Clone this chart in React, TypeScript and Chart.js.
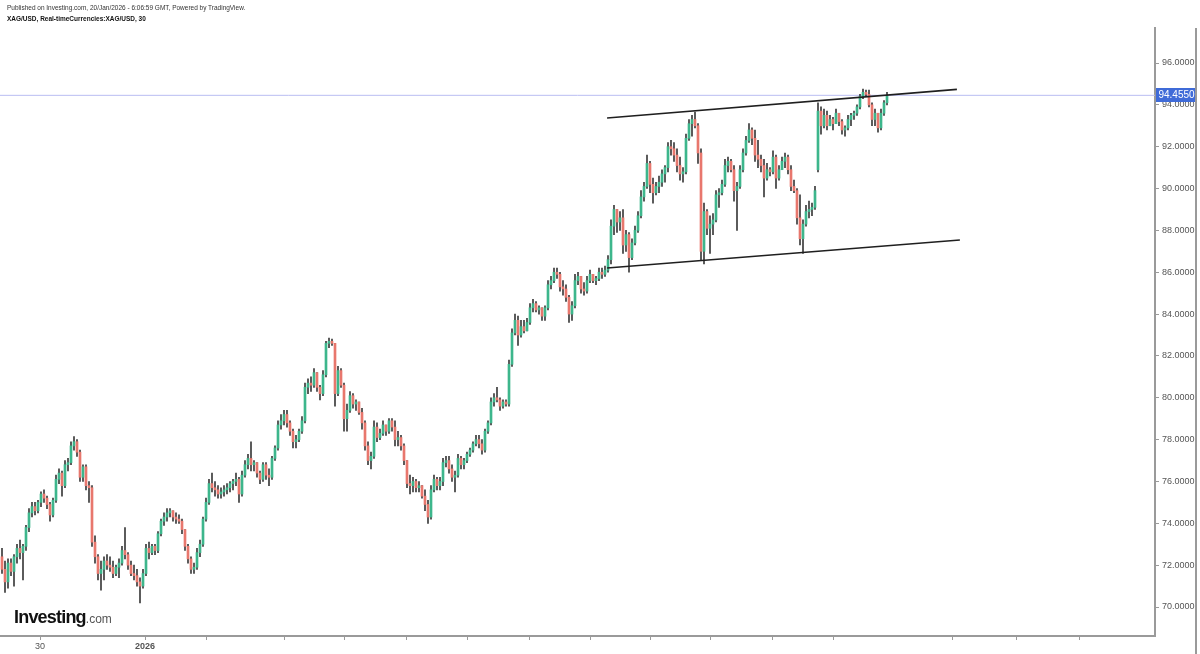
import React, { useEffect, useRef } from 'react';
import { Chart, registerables } from 'chart.js';

Chart.register(...registerables);

// ---- Data: XAG/USD 30-minute bars, each [open, high, low, close] ----
const barsLateDec = [
  [72.4,72.8,71.6,71.8],[71.8,72.2,70.7,71.2],[71.2,72.3,70.9,72.1],[72.1,72.3,71.5,71.7],[71.7,72.5,71.0,72.4],[72.4,73.0,72.1,72.8],[72.8,73.2,72.3,72.6],[72.6,73.0,71.3,72.9],[72.9,73.9,72.7,73.8],[73.8,74.7,73.6,74.5],
  [74.5,75.0,74.3,74.8],[74.8,75.0,74.4,74.6],[74.6,75.1,74.5,75.0],[75.0,75.5,74.8,75.4],[75.4,75.6,75.0,75.2],[75.2,75.3,74.7,74.9],[74.9,75.0,74.1,74.4],[74.4,75.2,74.3,75.1],[75.1,76.3,75.0,76.1],[76.1,76.6,75.9,76.4],
  [76.4,76.5,75.3,75.8],[75.8,77.0,75.7,76.8],[76.8,77.1,76.5,76.9],[76.9,77.9,76.8,77.7],[77.7,78.15,77.5,77.9],[77.9,78.0,77.2,77.4],[77.4,77.5,76.0,76.2],[76.2,76.8,76.0,76.7],[76.7,76.8,75.6,75.8],[75.8,76.0,75.0,75.7],
  [75.7,75.8,72.9,73.1],[73.1,73.4,72.1,72.4],[72.4,72.5,71.3,71.6],[71.6,72.2,70.8,71.8],[71.8,72.4,71.3,72.2],[72.2,72.5,71.8,72.0],[72.0,72.4,71.7,71.9],[71.9,72.2,71.4,71.6],[71.6,72.0,71.5,71.9],[71.9,72.3,71.4,72.1],
  [72.1,72.9,72.0,72.7],[72.7,73.8,72.3,72.5],[72.5,72.6,71.8,72.0],[72.0,72.2,71.5,71.6],[71.6,72.0,71.3,71.5],[71.5,71.8,71.0,71.2],[71.2,71.4,70.2,71.0],[71.0,71.8,70.9,71.6],[71.6,73.0,71.5,72.8],[72.8,73.1,72.3,72.6],
];
const barsEarlyJan = [
  [72.6,73.0,72.5,72.9],[72.9,73.0,72.5,72.7],[72.7,73.6,72.6,73.5],[73.5,74.2,73.4,74.1],[74.1,74.5,73.9,74.3],[74.3,74.7,74.1,74.5],[74.5,74.7,74.3,74.6],[74.6,74.6,74.1,74.3],[74.3,74.5,74.0,74.2],[74.2,74.4,74.0,74.1],
  [74.1,74.2,73.5,73.7],[73.7,73.7,72.7,72.9],[72.9,73.0,72.1,72.3],[72.3,72.4,71.6,71.8],[71.8,72.1,71.6,71.9],[71.9,72.8,71.8,72.6],[72.6,73.2,72.4,73.0],[73.0,74.3,72.9,74.2],[74.2,75.2,74.1,75.0],[75.0,76.1,74.9,75.9],
  [75.9,76.4,75.5,75.7],[75.7,76.0,75.3,75.6],[75.6,75.8,75.2,75.4],[75.4,75.7,75.2,75.5],[75.5,75.8,75.3,75.6],[75.6,75.9,75.4,75.7],[75.7,76.0,75.5,75.9],[75.9,76.1,75.6,76.0],[76.0,76.4,75.8,76.1],[76.1,76.2,75.0,75.4],
  [75.4,76.5,75.3,76.3],[76.3,77.0,76.2,76.8],[76.8,77.3,76.6,77.1],[77.1,77.9,76.5,76.8],[76.8,77.0,76.5,76.9],[76.9,76.9,76.2,76.4],[76.4,76.5,75.9,76.1],[76.1,76.9,76.0,76.8],[76.8,76.9,76.1,76.3],[76.3,76.6,75.8,76.2],
  [76.2,77.2,76.1,77.1],[77.1,77.7,77.0,77.6],[77.6,78.9,77.5,78.7],[78.7,79.2,78.5,78.9],[78.9,79.4,78.7,79.2],[79.2,79.4,78.6,78.8],[78.8,78.9,78.2,78.4],[78.4,78.5,77.6,77.9],[77.9,78.2,77.6,78.0],[78.0,78.5,77.9,78.4],
];
const barsJanWeek2 = [
  [78.4,79.1,78.3,78.9],[78.9,80.7,78.8,80.5],[80.5,80.9,80.2,80.7],[80.7,81.0,80.3,80.6],[80.6,81.4,80.5,81.2],[81.2,81.2,80.3,80.5],[80.5,80.6,79.9,80.2],[80.2,81.3,80.1,81.1],[81.1,82.7,81.0,82.6],[82.6,82.85,82.4,82.7],
  [82.7,82.8,82.5,82.6],[82.6,82.6,79.6,80.2],[80.2,81.5,80.1,81.3],[81.3,81.4,80.5,80.6],[80.6,80.7,78.4,79.0],[79.0,79.7,78.4,79.4],[79.4,80.3,79.3,80.1],[80.1,80.2,79.5,79.7],[79.7,79.9,79.4,79.8],[79.8,79.8,79.2,79.3],
  [79.3,79.5,78.5,78.8],[78.8,78.9,77.5,77.7],[77.7,77.9,76.8,77.0],[77.0,77.4,76.6,77.2],[77.2,78.9,77.1,78.6],[78.6,78.8,77.9,78.1],[78.1,78.5,78.0,78.3],[78.3,78.9,78.2,78.7],[78.7,78.7,78.2,78.4],[78.4,79.0,78.3,78.9],
  [78.9,79.0,78.4,78.6],[78.6,78.9,77.7,78.0],[78.0,78.4,77.7,78.1],[78.1,78.2,77.5,77.7],[77.7,77.8,76.8,77.0],[77.0,77.0,75.7,75.9],[75.9,76.3,75.4,75.8],[75.8,76.2,75.5,76.0],[76.0,76.1,75.5,75.7],[75.7,76.0,75.5,75.8],
  [75.8,75.8,75.2,75.3],[75.3,75.6,74.6,74.9],[74.9,75.1,74.0,74.3],[74.3,75.8,74.2,75.6],[75.6,76.3,75.5,76.1],[76.1,76.2,75.6,75.8],[75.8,76.2,75.6,76.0],[76.0,77.1,75.8,76.9],[76.9,77.2,76.7,77.0],[77.0,77.2,76.4,76.6],
];
const barsJanWeek3 = [
  [76.6,76.8,76.0,76.2],[76.2,76.5,75.5,76.3],[76.3,77.3,76.2,77.1],[77.1,77.2,76.6,76.8],[76.8,77.1,76.6,77.0],[77.0,77.4,76.9,77.3],[77.3,77.6,77.2,77.5],[77.5,77.9,77.4,77.8],[77.8,78.2,77.7,78.0],[78.0,78.2,77.6,77.8],
  [77.8,78.0,77.3,77.5],[77.5,78.5,77.4,78.4],[78.4,78.9,78.3,78.8],[78.8,80.0,78.7,79.8],[79.8,80.2,79.6,80.0],[80.0,80.5,79.8,79.9],[79.9,80.0,79.4,79.6],[79.6,79.9,79.5,79.8],[79.8,79.9,79.6,79.7],[79.7,81.8,79.6,81.6],
  [81.6,83.3,81.5,83.1],[83.1,84.0,83.0,83.7],[83.7,83.9,82.5,83.0],[83.0,83.7,82.9,83.4],[83.4,83.7,83.1,83.2],[83.2,83.8,83.2,83.6],[83.6,84.5,83.5,84.3],[84.3,84.7,84.1,84.5],[84.5,84.6,84.1,84.2],[84.2,84.4,84.0,84.3],
  [84.3,84.3,83.7,83.9],[83.9,84.4,83.7,84.3],[84.3,85.6,84.2,85.4],[85.4,85.8,85.2,85.6],[85.6,86.2,85.5,86.0],[86.0,86.2,85.7,85.9],[85.9,86.0,85.1,85.3],[85.3,85.6,84.9,85.2],[85.2,85.4,84.6,84.8],[84.8,84.9,83.6,84.0],
  [84.0,84.6,83.7,84.4],[84.4,85.9,84.3,85.6],[85.6,86.0,85.4,85.8],[85.8,85.8,85.0,85.2],[85.2,85.5,84.9,85.1],[85.1,85.8,85.0,85.6],[85.6,86.1,85.5,85.9],[85.9,85.9,85.5,85.6],[85.6,85.8,85.4,85.7],[85.7,86.2,85.6,86.0],
];
const barsChannelA = [
  [86.0,86.2,85.7,85.9],[85.9,86.3,85.8,86.1],[86.1,86.8,86.0,86.6],[86.6,88.5,86.4,88.2],[88.2,89.2,87.8,89.0],[89.0,89.0,87.9,88.4],[88.4,88.9,88.0,88.6],[88.6,89.0,86.9,87.3],[87.3,88.0,87.0,87.8],[87.8,87.9,86.0,86.7],
  [86.7,87.6,86.6,87.4],[87.4,88.2,87.3,88.0],[88.0,88.9,87.9,88.7],[88.7,89.9,88.6,89.6],[89.6,90.3,89.4,90.1],[90.1,91.6,90.0,91.2],[91.2,91.3,89.8,90.2],[90.2,90.5,89.3,89.8],[89.8,90.3,89.7,90.1],[90.1,90.6,89.8,90.3],
  [90.3,90.9,90.1,90.7],[90.7,91.1,90.3,91.0],[91.0,92.2,90.8,92.0],[92.0,92.3,91.6,91.9],[91.9,92.2,91.3,91.6],[91.6,91.9,90.8,91.1],[91.1,91.5,90.4,90.7],[90.7,91.0,90.3,90.8],[90.8,92.6,90.7,92.4],[92.4,93.3,92.3,93.1],
  [93.1,93.5,92.5,93.3],[93.3,93.65,92.9,93.0],[93.0,93.1,91.2,91.7],[91.7,91.9,86.6,87.0],[87.0,89.3,86.4,88.9],[88.9,89.0,87.8,88.1],[88.1,88.7,86.9,88.3],[88.3,88.8,87.8,88.5],[88.5,89.9,88.4,89.7],[89.7,90.0,89.1,89.8],
  [89.8,90.4,89.7,90.2],[90.2,91.4,90.1,91.1],[91.1,91.5,90.8,91.3],[91.3,91.4,90.8,90.9],[90.9,91.1,89.4,89.9],[89.9,90.3,88.0,90.1],[90.1,91.1,90.0,90.9],[90.9,91.9,90.8,91.7],[91.7,92.5,91.6,92.3],[92.3,93.1,92.2,92.8],
];
const barsChannelB = [
  [92.8,92.9,92.1,92.4],[92.4,92.8,91.3,91.6],[91.6,92.3,91.0,91.4],[91.4,91.6,90.8,91.1],[91.1,91.4,89.6,90.5],[90.5,91.2,90.4,90.9],[90.9,91.0,90.6,90.8],[90.8,91.8,90.7,91.5],[91.5,91.6,90.0,90.5],[90.5,91.1,90.4,90.9],
  [90.9,91.5,90.9,91.3],[91.3,91.7,91.0,91.5],[91.5,91.6,90.7,90.9],[90.9,91.1,89.9,90.1],[90.1,90.4,89.8,89.9],[89.9,90.0,88.3,88.6],[88.6,89.7,87.3,87.6],[87.6,88.5,86.9,88.3],[88.3,89.2,88.2,88.9],[88.9,89.4,88.6,89.0],
  [89.0,89.3,88.7,89.1],[89.1,90.1,89.0,89.9],[90.9,94.1,90.8,93.7],[93.7,93.9,92.6,93.0],[93.0,93.8,92.9,93.5],[93.5,93.7,92.8,93.0],[93.0,93.5,93.0,93.3],[93.3,93.4,92.8,93.1],[93.1,93.8,93.1,93.6],[93.6,93.6,93.0,93.2],
  [93.2,93.3,92.6,92.8],[92.8,93.0,92.5,92.9],[92.9,93.5,92.8,93.3],[93.3,93.6,93.0,93.5],[93.5,93.7,93.3,93.6],[93.6,94.0,93.5,93.9],[93.9,94.5,93.8,94.4],[94.4,94.75,94.3,94.6],[94.6,94.7,94.4,94.5],[94.5,94.7,93.9,94.0],
  [94.0,94.1,93.0,93.3],[93.3,93.8,93.0,93.6],[93.6,93.6,92.7,92.9],[92.9,93.8,92.8,93.6],[93.6,94.2,93.5,94.1],[94.1,94.6,94.0,94.455],
];

const lastPrice = 94.455;

// Trend channel drawn on the chart (bar index, price)
const upperTrend = [[201.7, 93.37], [318.3, 94.74]];
const lowerTrend = [[201.7, 86.2], [319.3, 87.54]];

// Time axis: tick positions (bar index) and their labels
const timeTicks = [12.7, 47.7, 68.3, 94, 114.3, 135, 155.3, 176, 196.3, 216.3, 236.3, 256.7, 277, 316.7, 338.3, 359.3];
const timeLabels = ['30', '2026', '', '', '', '', '', '', '', '', '', '', '', '', '', ''];

// Price axis ticks
const priceTicks = [70, 72, 74, 76, 78, 80, 82, 84, 86, 88, 90, 92, 94, 96];

const bars = [...barsLateDec, ...barsEarlyJan, ...barsJanWeek2, ...barsJanWeek3, ...barsChannelA, ...barsChannelB];

const UP = '#3db68c';
const DOWN = '#e8776d';
const WICK = '#3a3a3a';
const AXIS = '#9a9a9a';
const FONT = '"Liberation Sans", Arial, sans-serif';

const X_MIN = -2 / 3;
const X_MAX = 384 + 1 / 3;
const Y_MIN = 68.614;
const Y_MAX = 97.673;

const priceTagPlugin = {
  id: 'priceTag',
  afterDraw(chart: any) {
    const { ctx, chartArea, scales } = chart;
    const y = scales.y.getPixelForValue(lastPrice);
    ctx.save();
    ctx.fillStyle = '#3f6bd8';
    ctx.fillRect(chartArea.right + 1, Math.round(y) - 7, 41, 14);
    ctx.fillStyle = '#ffffff';
    ctx.font = `10px ${FONT}`;
    ctx.textBaseline = 'middle';
    ctx.textAlign = 'center';
    ctx.fillText(lastPrice.toFixed(4), chartArea.right + 21.5, Math.round(y) + 0.5);
    ctx.strokeStyle = AXIS;
    ctx.lineWidth = 2;
    ctx.beginPath();
    ctx.moveTo(1196, chartArea.top);
    ctx.lineTo(1196, chart.height);
    ctx.stroke();
    ctx.restore();
  },
};

export default function App() {
  const ref = useRef<HTMLCanvasElement>(null);

  useEffect(() => {
    Chart.defaults.font.family = FONT;
    const wickData = bars.map((b, i) => ({ x: i, y: [b[2], b[1]] }));
    const bodyData = bars.map((b, i) => ({ x: i, y: [b[0], b[3]] }));
    const bodyColors = bars.map((b) => (b[3] >= b[0] ? UP : DOWN));

    const chart = new Chart(ref.current as HTMLCanvasElement, {
      type: 'bar',
      data: {
        datasets: [
          {
            type: 'line',
            data: [{ x: X_MIN, y: lastPrice }, { x: X_MAX, y: lastPrice }],
            borderColor: '#b9bdf2',
            borderWidth: 1,
            pointRadius: 0,
            order: 5,
          } as any,
          {
            type: 'bar',
            data: wickData,
            backgroundColor: WICK,
            barThickness: 1,
            grouped: false,
            order: 4,
          } as any,
          {
            type: 'bar',
            data: bodyData,
            backgroundColor: bodyColors,
            barThickness: 2,
            grouped: false,
            order: 3,
          } as any,
          {
            type: 'line',
            data: upperTrend.map(([x, y]) => ({ x, y })),
            borderColor: '#1f1f1f',
            borderWidth: 1.6,
            pointRadius: 0,
            order: 1,
          } as any,
          {
            type: 'line',
            data: lowerTrend.map(([x, y]) => ({ x, y })),
            borderColor: '#1f1f1f',
            borderWidth: 1.6,
            pointRadius: 0,
            order: 1,
          } as any,
        ],
      },
      options: {
        responsive: false,
        animation: false,
        events: [],
        layout: { padding: { top: 28, left: 0, right: 0, bottom: 0 } },
        plugins: { legend: { display: false }, tooltip: { enabled: false } },
        scales: {
          x: {
            type: 'linear',
            min: X_MIN,
            max: X_MAX,
            offset: false,
            afterFit: (s: any) => { s.height = 18; },
            afterBuildTicks: (s: any) => { s.ticks = timeTicks.map((v) => ({ value: v })); },
            grid: { offset: false, drawOnChartArea: false, drawTicks: true, tickLength: 4, tickColor: AXIS, color: AXIS },
            border: { display: true, color: AXIS, width: 2 },
            ticks: {
              autoSkip: false,
              maxRotation: 0,
              padding: 1,
              color: '#555555',
              font: (c: any) => ({ size: 9, weight: c.tick && c.tick.label === '2026' ? 'bold' : 'normal' }),
              callback: (_v: any, i: number) => timeLabels[i],
            },
          },
          y: {
            type: 'linear',
            position: 'right',
            min: Y_MIN,
            max: Y_MAX,
            afterFit: (s: any) => { s.width = 45; },
            afterBuildTicks: (s: any) => { s.ticks = priceTicks.map((v) => ({ value: v })); },
            grid: { offset: false, drawOnChartArea: false, drawTicks: true, tickLength: 4, tickColor: AXIS, color: AXIS },
            border: { display: true, color: AXIS, width: 2 },
            ticks: {
              padding: 3,
              color: '#555555',
              font: { size: 9 },
              callback: (v: any) => Number(v).toFixed(4),
            },
          },
        },
      },
      plugins: [priceTagPlugin],
    } as any);
    return () => chart.destroy();
  }, []);

  return (
    <div style={{ position: 'absolute', left: 0, top: 0, width: 1200, height: 654, background: '#fff', overflow: 'hidden' }}>
      <canvas ref={ref} width={1200} height={654} style={{ display: 'block' }} />
      <div style={{ position: 'absolute', left: 7, top: 3, fontFamily: FONT, fontSize: 7.5, color: '#333', whiteSpace: 'nowrap', transform: 'scaleX(0.865)', transformOrigin: 'left top', lineHeight: '10px' }}>
        Published on Investing.com, 20/Jan/2026 - 6:06:59 GMT, Powered by TradingView.
      </div>
      <div style={{ position: 'absolute', left: 7, top: 14, fontFamily: FONT, fontSize: 7.5, fontWeight: 'bold', color: '#111', whiteSpace: 'nowrap', transform: 'scaleX(0.865)', transformOrigin: 'left top', lineHeight: '10px' }}>
        XAG/USD, Real-timeCurrencies:XAG/USD, 30
      </div>
      <div style={{ position: 'absolute', left: 14, top: 606, fontFamily: FONT, whiteSpace: 'nowrap', lineHeight: '22px' }}>
        <span style={{ fontSize: 18, fontWeight: 'bold', color: '#111', letterSpacing: -0.8 }}>Investing</span>
        <span style={{ fontSize: 12, color: '#555' }}>.com</span>
      </div>
    </div>
  );
}
